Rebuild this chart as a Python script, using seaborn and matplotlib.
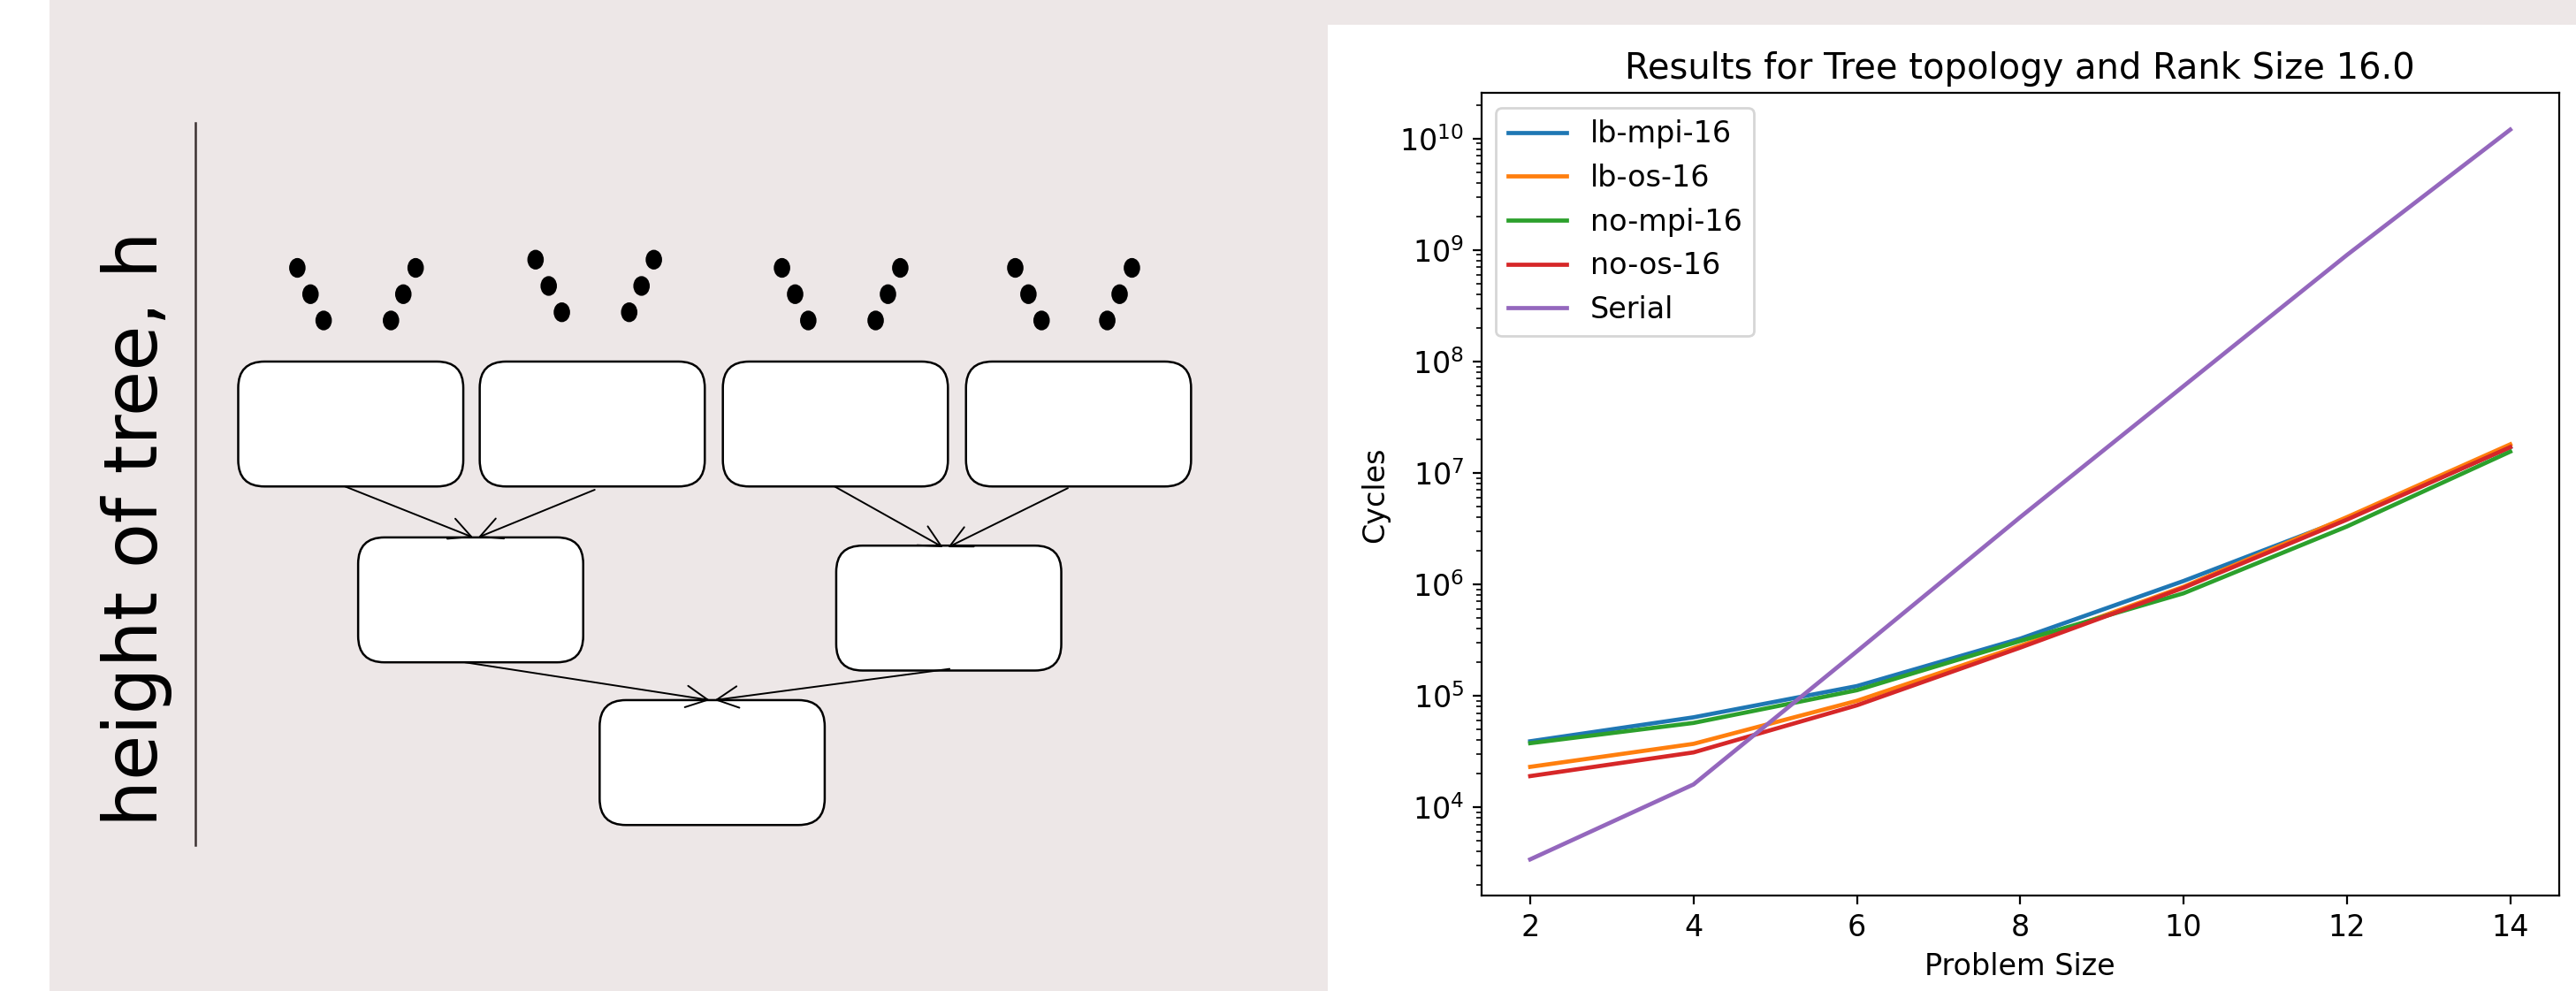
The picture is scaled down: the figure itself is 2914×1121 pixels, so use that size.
import matplotlib
matplotlib.use("Agg")
import matplotlib.pyplot as plt
from matplotlib.patches import FancyBboxPatch, FancyArrowPatch, Ellipse, Rectangle
import pandas as pd
import seaborn as sns

# ---- chart data ----
problem_size = [2, 4, 6, 8, 10, 12, 14]
lb_mpi = [3.9e4, 6.4e4, 1.22e5, 3.25e5, 1.07e6, 3.9e6, 1.7e7]
lb_os = [2.3e4, 3.7e4, 9.0e4, 2.8e5, 9.5e5, 4.0e6, 1.8e7]
no_mpi = [3.75e4, 5.7e4, 1.12e5, 3.1e5, 8.3e5, 3.3e6, 1.55e7]
no_os = [1.9e4, 3.1e4, 8.2e4, 2.7e5, 9.3e5, 3.8e6, 1.7e7]
serial = [3.4e3, 1.6e4, 2.5e5, 4.0e6, 6.0e7, 9.0e8, 1.2e10]
series_names = ["lb-mpi-16", "lb-os-16", "no-mpi-16", "no-os-16", "Serial"]
colors = ["#1f77b4", "#ff7f0e", "#2ca02c", "#d62728", "#9467bd"]

# ---- tree diagram layout (canvas units, 1568 x 603, y down) ----
top_boxes = [(145, 220), (292, 220), (440, 220), (588, 220)]
mid_boxes = [(218, 327), (509, 332)]
root_boxes = [(365, 426)]
box_w, box_h = 137, 76
arrows = [((210, 296), (288, 327)), ((362, 298), (291, 327)),
          ((508, 296), (574, 333)), ((650, 297), (577, 333)),
          ((283, 403), (432, 426)), ((578, 407), (435, 426))]
dot_left_x = [181, 326, 476, 618]
dot_right_x = [253, 398, 548, 689]
dot_top_y = [163, 158, 163, 163]

plt.rcParams["font.size"] = 12
plt.rcParams["lines.linewidth"] = 1.7

fig = plt.figure(figsize=(14.57, 5.605), dpi=200)

# background canvas
bg = fig.add_axes([0, 0, 1, 1])
bg.set_xlim(0, 1568)
bg.set_ylim(603, 0)
bg.set_xticks([])
bg.set_yticks([])
bg.axis("off")
bg.add_patch(Rectangle((30, 0), 1538, 603, color="#ede7e7", lw=0))
bg.add_patch(Rectangle((808, 15), 760, 600, color="white", lw=0))

for (x, y) in top_boxes + mid_boxes + root_boxes:
    bg.add_patch(FancyBboxPatch((x, y), box_w, box_h,
                                boxstyle="round,pad=0,rounding_size=16",
                                fc="white", ec="black", lw=0.9))
for a, b in arrows:
    bg.add_patch(FancyArrowPatch(a, b, arrowstyle="->", mutation_scale=22,
                                 lw=0.7, color="black", shrinkA=0, shrinkB=0))
for lx, rx, ty in zip(dot_left_x, dot_right_x, dot_top_y):
    for k in range(3):
        bg.add_patch(Ellipse((lx + 8 * k, ty + 16 * k), 8.5, 10.5, color="black"))
        bg.add_patch(Ellipse((rx - 7.5 * k, ty + 16 * k), 8.5, 10.5, color="black"))

bg.plot([119, 119], [75, 514], color="#3b3131", lw=0.9)
bg.text(83, 322, "height of tree, h", rotation=90, ha="center", va="center",
        fontsize=30, color="black")

# ---- results chart ----
df = pd.DataFrame({
    "Problem Size": problem_size * 5,
    "Cycles": lb_mpi + lb_os + no_mpi + no_os + serial,
    "run": sum([[n] * len(problem_size) for n in series_names], []),
})

ax = fig.add_axes([0.575, 0.096, 0.4185, 0.81])
sns.lineplot(data=df, x="Problem Size", y="Cycles", hue="run",
             hue_order=series_names, palette=colors, ax=ax, linewidth=1.7)
ax.set_yscale("log")
ax.set_title("Results for Tree topology and Rank Size 16.0")
ax.set_xlabel("Problem Size")
ax.set_ylabel("Cycles")
ax.set_xticks([2, 4, 6, 8, 10, 12, 14])
handles, labels = ax.get_legend_handles_labels()
ax.legend(handles, labels, loc="upper left")

fig.savefig("out.png", dpi=200)
